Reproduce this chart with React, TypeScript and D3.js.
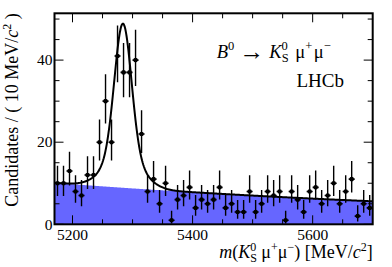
import React from 'react';
import * as d3 from 'd3';

// bin centres (10 MeV bins) and candidate counts
const binCenters = [
  5175, 5185, 5195, 5205, 5215, 5225, 5235, 5245, 5255, 5265,
  5275, 5285, 5295, 5305, 5315, 5325, 5335, 5345, 5355, 5365,
  5375, 5385, 5395, 5405, 5415, 5425, 5435, 5445, 5455, 5465,
  5475, 5485, 5495, 5505, 5515, 5525, 5535, 5545, 5555, 5565,
  5575, 5585, 5595, 5605, 5615, 5625, 5635, 5645, 5655, 5665,
  5675, 5685, 5695,
];
const counts = [
  10, 10, 13, 8, 7, 12, 12, 20, 30, 20,
  41, 37, 37, 40, 22, 8, 11, 5, 10, 1,
  6, 7, 9, 4, 6, 5, 6, 9, 4, 5,
  3, 3, 8, 3, 5, 8, 7, 8, 1, 8,
  6, 3, 8, 9, 5, 7, 10, 5, 8, 11,
  2, 5, 4,
];

const xTickLabels = [5200, 5400, 5600];
const yTickLabels = [0, 20, 40];

// fit model parameters (estimated from the drawn curve)
const sigMean = 5284;
const sigCore = [32, 14]; // amplitude, sigma
const sigWide = [8, 30];
const bgAtMin = 10.1;
const bgAtMax = 5.6;

const xMin = 5170;
const xMax = 5700;
const yMax = 51.4;
const binWidth = 10;

const bgSlope = Math.log(bgAtMin / bgAtMax) / (xMax - xMin);
const bg = (m: number) => bgAtMin * Math.exp(-bgSlope * (m - xMin));
const gauss = (m: number, a: number, s: number) => a * Math.exp(-((m - sigMean) ** 2) / (2 * s * s));
const total = (m: number) => bg(m) + gauss(m, sigCore[0], sigCore[1]) + gauss(m, sigWide[0], sigWide[1]);

// Garwood (Poisson) 68% interval, like ROOT's asymmetric errors
function poissonCdf(n: number, mu: number) {
  let term = Math.exp(-mu);
  let sum = term;
  for (let k = 1; k <= n; k++) {
    term *= mu / k;
    sum += term;
  }
  return sum;
}
function solve(f: (mu: number) => number, target: number) {
  let lo = 0, hi = 200;
  for (let i = 0; i < 80; i++) {
    const mid = (lo + hi) / 2;
    if (f(mid) > target) lo = mid; else hi = mid;
  }
  return (lo + hi) / 2;
}
const alpha = 0.158655;
const upper = (n: number) => solve(mu => poissonCdf(n, mu), alpha);
const lower = (n: number) => (n === 0 ? 0 : solve(mu => poissonCdf(n - 1, mu), 1 - alpha));

const serif = '"Liberation Serif", "DejaVu Serif", serif';

export default function App() {
  const left = 54.5, right = 372.7, top = 13.3, bottom = 224.3;
  const x = d3.scaleLinear().domain([xMin, xMax]).range([left, right]);
  const y = d3.scaleLinear().domain([0, yMax]).range([bottom, top]);

  const samples = d3.range(xMin, xMax + 0.5, 1);
  const fitLine = d3.line<number>().x(m => x(m)).y(m => y(total(m)));
  const bgArea = d3.area<number>().x(m => x(m)).y0(y(0)).y1(m => y(bg(m)));

  const xMinor = d3.range(5200, xMax, 50).filter(v => !xTickLabels.includes(v));
  const yMinor = d3.range(5, yMax, 5).filter(v => !yTickLabels.includes(v));

  const majLen = 9, minLen = 5;

  return (
    <svg width={392} height={267} style={{ position: 'absolute', left: 0, top: 0, background: '#fff' }}
      fontFamily={serif}>
      <defs>
        <clipPath id="frame">
          <rect x={left} y={top} width={right - left} height={bottom - top} />
        </clipPath>
      </defs>
      <g clipPath="url(#frame)">
        <path d={bgArea(samples) ?? ''} fill="#6666ff" />
        {binCenters.map((c, i) => {
          const n = counts[i];
          return (
            <g key={c} stroke="#000">
              <line x1={x(c)} x2={x(c)} y1={y(lower(n))} y2={y(upper(n))} strokeWidth={1.4} />
              <line x1={x(c - binWidth / 2)} x2={x(c + binWidth / 2)} y1={y(n)} y2={y(n)} strokeWidth={1.6} />
              <circle cx={x(c)} cy={y(n)} r={2.3} fill="#000" stroke="none" />
            </g>
          );
        })}
        <path d={fitLine(samples) ?? ''} fill="none" stroke="#000" strokeWidth={2} />
      </g>

      {/* ticks, drawn inward on all four sides */}
      <g stroke="#000" strokeWidth={1}>
        {xTickLabels.map(v => (
          <g key={'xm' + v}>
            <line x1={x(v)} x2={x(v)} y1={bottom} y2={bottom - majLen} />
            <line x1={x(v)} x2={x(v)} y1={top} y2={top + majLen} />
          </g>
        ))}
        {xMinor.map(v => (
          <g key={'xn' + v}>
            <line x1={x(v)} x2={x(v)} y1={bottom} y2={bottom - minLen} />
            <line x1={x(v)} x2={x(v)} y1={top} y2={top + minLen} />
          </g>
        ))}
        {yTickLabels.map(v => (
          <g key={'ym' + v}>
            <line x1={left} x2={left + majLen} y1={y(v)} y2={y(v)} />
            <line x1={right} x2={right - majLen} y1={y(v)} y2={y(v)} />
          </g>
        ))}
        {yMinor.map(v => (
          <g key={'yn' + v}>
            <line x1={left} x2={left + minLen} y1={y(v)} y2={y(v)} />
            <line x1={right} x2={right - minLen} y1={y(v)} y2={y(v)} />
          </g>
        ))}
      </g>
      <rect x={left} y={top} width={right - left} height={bottom - top} fill="none" stroke="#000" strokeWidth={2} />

      {/* tick labels */}
      <g fontSize={15.5} fill="#000">
        {xTickLabels.map(v => (
          <text key={'xl' + v} x={x(v)} y={bottom + 16} textAnchor="middle">{v}</text>
        ))}
        {yTickLabels.map(v => (
          <text key={'yl' + v} x={left - 2} y={y(v) + 5.3} textAnchor="end">{v}</text>
        ))}
      </g>

      {/* axis titles */}
      <text x={right} y={257.5} fontSize={18} textAnchor="end">
        <tspan fontStyle="italic">m</tspan>
        <tspan>(</tspan>
        <tspan fontStyle="italic">K</tspan>
        <tspan fontSize={12} dy={-7}>0</tspan>
        <tspan fontSize={12} dx={-6} dy={11}>S</tspan>
        <tspan dy={-4}>{'\u00a0\u03bc'}</tspan>
        <tspan fontSize={12} dy={-7}>+</tspan>
        <tspan dy={7}>{'\u03bc'}</tspan>
        <tspan fontSize={12} dy={-7}>{'\u2212'}</tspan>
        <tspan dy={7}>{') [MeV/'}</tspan>
        <tspan fontStyle="italic">c</tspan>
        <tspan fontSize={12} dy={-7}>2</tspan>
        <tspan dy={7}>]</tspan>
      </text>
      <text transform={`translate(17.5, ${top}) rotate(-90)`} fontSize={18} textAnchor="end">
        <tspan>{'Candidates / ( 10 MeV/'}</tspan>
        <tspan fontStyle="italic">c</tspan>
        <tspan fontSize={12} dy={-7}>2</tspan>
        <tspan dy={7}>{'\u00a0)'}</tspan>
      </text>

      {/* legend */}
      <text x={216.7} y={58.3} fontSize={18.5}>
        <tspan fontStyle="italic">B</tspan>
        <tspan fontSize={12.5} dy={-8}>0</tspan>
        <tspan dx={5} dy={9.5} fontSize={25}>{'\u2192'}</tspan>
        <tspan dx={5} dy={-1.5} fontStyle="italic">K</tspan>
        <tspan fontSize={12.5} dy={-8}>0</tspan>
        <tspan fontSize={12.5} dx={-6.2} dy={12}>S</tspan>
        <tspan dx={2} dy={-4}>{'\u00a0\u03bc'}</tspan>
        <tspan fontSize={12.5} dy={-8}>+</tspan>
        <tspan dx={1.5} dy={8}>{'\u03bc'}</tspan>
        <tspan fontSize={12.5} dy={-8}>{'\u2212'}</tspan>
      </text>
      <text x={344} y={87.3} fontSize={19} textAnchor="end">LHCb</text>
    </svg>
  );
}
